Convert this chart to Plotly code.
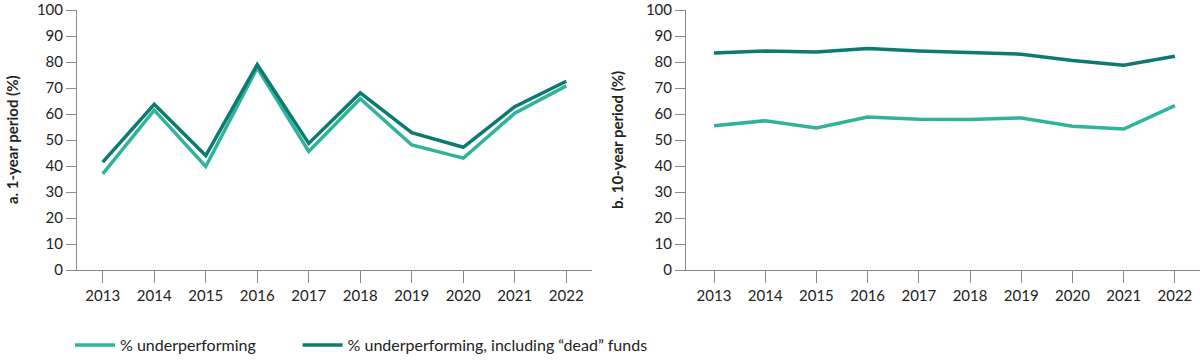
import plotly.graph_objects as go

years = ["2013", "2014", "2015", "2016", "2017", "2018", "2019", "2020", "2021", "2022"]
one_year_under = [37.0, 61.5, 39.8, 77.8, 45.6, 65.9, 48.1, 43.0, 60.3, 70.8]
one_year_dead = [41.5, 63.7, 44.0, 79.0, 48.7, 68.1, 52.8, 47.2, 62.8, 72.6]
ten_year_under = [55.5, 57.4, 54.6, 58.8, 58.0, 57.9, 58.5, 55.3, 54.2, 63.2]
ten_year_dead = [83.5, 84.2, 83.8, 85.2, 84.2, 83.6, 83.0, 80.6, 78.8, 82.2]
y_ticks = list(range(0, 101, 10))
series_names = ["% underperforming", "% underperforming, including \u201cdead\u201d funds"]
panel_titles = ["a. 1-year period (%)", "b. 10-year period (%)"]

LIGHT = "#2fb39c"
DARK = "#0d7a6f"
FONT = "Lato"
W, H = 1200, 362

fig = go.Figure()
fig.add_trace(go.Scatter(x=years, y=one_year_under, mode="lines",
                         name=series_names[0] + "\u00a0" * 9,
                         line=dict(color=LIGHT, width=3.5), xaxis="x", yaxis="y"))
fig.add_trace(go.Scatter(x=years, y=one_year_dead, mode="lines", name=series_names[1],
                         line=dict(color=DARK, width=3.5), xaxis="x", yaxis="y"))
fig.add_trace(go.Scatter(x=years, y=ten_year_under, mode="lines", name=series_names[0],
                         line=dict(color=LIGHT, width=3.5), xaxis="x2", yaxis="y2", showlegend=False))
fig.add_trace(go.Scatter(x=years, y=ten_year_dead, mode="lines", name=series_names[1],
                         line=dict(color=DARK, width=3.5), xaxis="x2", yaxis="y2", showlegend=False))

axis_common_x = dict(type="category", showline=True, linecolor="#8a8a8a", linewidth=1,
                     ticks="outside", ticklen=12, tickcolor="#8a8a8a", tickwidth=1,
                     showgrid=False, zeroline=False, automargin=False,
                     ticklabeloverflow="allow",
                     tickfont=dict(family=FONT, size=15, color="#222222"))
axis_common_y = dict(range=[0, 100], tickvals=y_ticks, showline=True, linecolor="#8a8a8a", linewidth=1,
                     ticks="outside", ticklen=10, tickcolor="#8a8a8a", tickwidth=1,
                     showgrid=False, zeroline=False, automargin=False,
                     ticklabeloverflow="allow",
                     tickfont=dict(family=FONT, size=15, color="#222222"))

fig.update_layout(
    width=W, height=H,
    margin=dict(l=0, r=0, t=10, b=92, autoexpand=False),
    paper_bgcolor="white", plot_bgcolor="white",
    xaxis=dict(domain=[77/W, 592/W], range=[-0.5, 9.5], anchor="y", **axis_common_x),
    yaxis=dict(anchor="x", **axis_common_y),
    xaxis2=dict(domain=[686/W, 1.0], range=[-0.547, 9.49], anchor="y2", **axis_common_x),
    yaxis2=dict(anchor="x2", **axis_common_y),
    showlegend=True,
    legend=dict(orientation="h", x=70/W, y=0.0, xanchor="left", yanchor="bottom",
                yref="container", font=dict(family=FONT, size=16, color="#222222"),
                itemwidth=40, traceorder="normal"),
    annotations=[
        dict(text="<b>" + panel_titles[0] + "</b>", x=2/W, y=0.5, xref="paper", yref="y domain",
             textangle=-90, showarrow=False, font=dict(family=FONT, size=15, color="#222222"),
             xanchor="left", yanchor="middle", borderpad=0),
        dict(text="<b>" + panel_titles[1] + "</b>", x=607/W, y=0.5, xref="paper", yref="y2 domain",
             textangle=-90, showarrow=False, font=dict(family=FONT, size=15, color="#222222"),
             xanchor="left", yanchor="middle", borderpad=0),
    ],
)

fig.write_html("out.html", config={"displayModeBar": False},
               post_script="document.body.style.margin='0';document.body.style.overflow='hidden';")
